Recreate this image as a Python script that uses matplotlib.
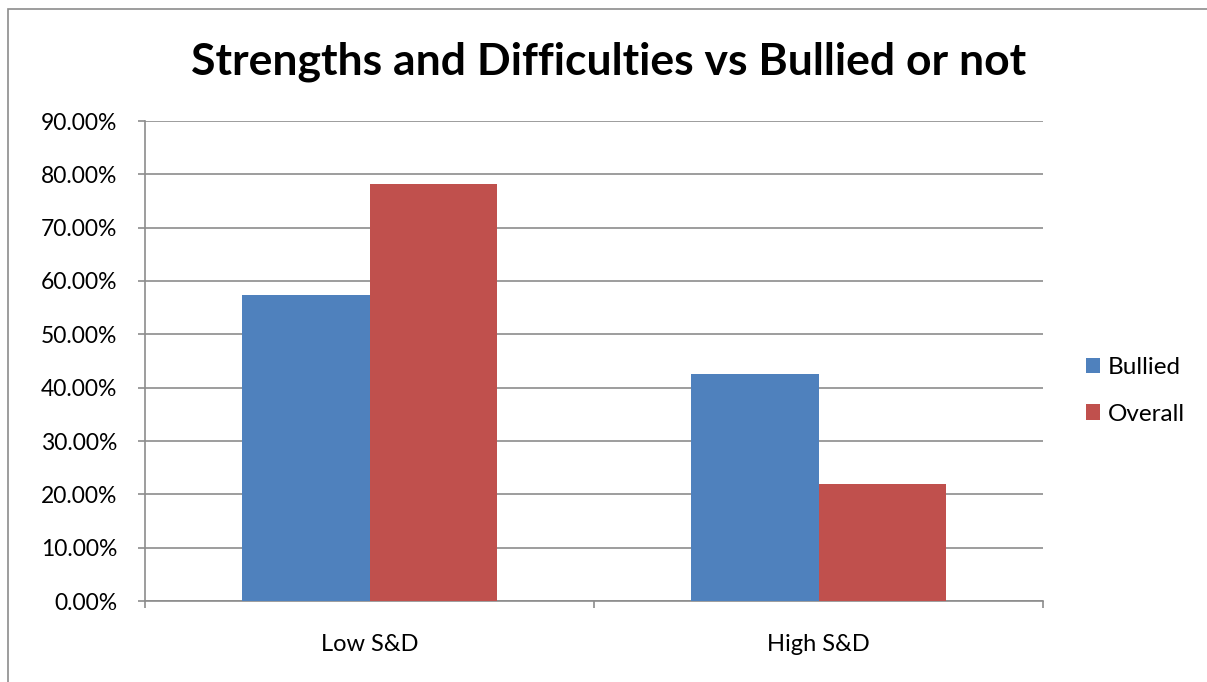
import matplotlib.pyplot as plt
import numpy as np
from matplotlib.patches import Rectangle

# values
categories = ['Low S&D', 'High S&D']
bullied = [57.4, 42.6]
overall = [78.1, 21.9]
series_names = ['Bullied', 'Overall']
yticks = np.arange(0, 100, 10)

plt.rcParams['font.family'] = ['Lato', 'DejaVu Sans']

fig = plt.figure(figsize=(12.07, 6.82), dpi=100)
ax = fig.add_axes([145 / 1207, 81 / 682, 898 / 1207, 480 / 682])

# outer chart frame (cut off on the right and bottom)
fig.patches.append(Rectangle((8 / 1207, -0.1), 1.2, 1 - 9 / 682 + 0.1,
                             transform=fig.transFigure, fill=False,
                             edgecolor='#8c8c8c', linewidth=1.2))

x = np.arange(len(categories))
w = 0.285
ax.bar(x - w / 2, bullied, w, color='#4F81BD', label=series_names[0], zorder=3)
ax.bar(x + w / 2, overall, w, color='#C0504D', label=series_names[1], zorder=3)

ax.set_xlim(-0.5, len(categories) - 0.5)
ax.set_ylim(0, 90)
ax.set_yticks(yticks)
ax.set_yticklabels([f'{v:.2f}%' for v in yticks])
ax.yaxis.grid(True, color='#8c8c8c', linewidth=1.2, zorder=0)

ax.set_xticks(x)
ax.set_xticklabels(categories)
ax.set_xticks(np.arange(-0.5, len(categories)), minor=True)
ax.tick_params(axis='x', which='major', length=0, pad=24, labelsize=17)
ax.tick_params(axis='x', which='minor', length=5, color='#8c8c8c', width=1.2)
ax.tick_params(axis='y', length=5, color='#8c8c8c', width=1.2, pad=15, labelsize=16.5)

for side in ['top', 'right']:
    ax.spines[side].set_visible(False)
for side in ['left', 'bottom']:
    ax.spines[side].set_color('#8c8c8c')
    ax.spines[side].set_linewidth(1.2)

fig.text(609 / 1207, 1 - 62 / 682, 'Strengths and Difficulties vs Bullied or not',
         ha='center', va='center', fontsize=32, fontweight='bold')

ax.legend(loc='center left', bbox_to_anchor=(1064 / 1207, 1 - 391 / 682),
          bbox_transform=fig.transFigure, frameon=False, fontsize=17.5,
          handlelength=0.6, handleheight=0.6, handletextpad=0.3, labelspacing=1.05)

fig.savefig('out.png', dpi=100)
